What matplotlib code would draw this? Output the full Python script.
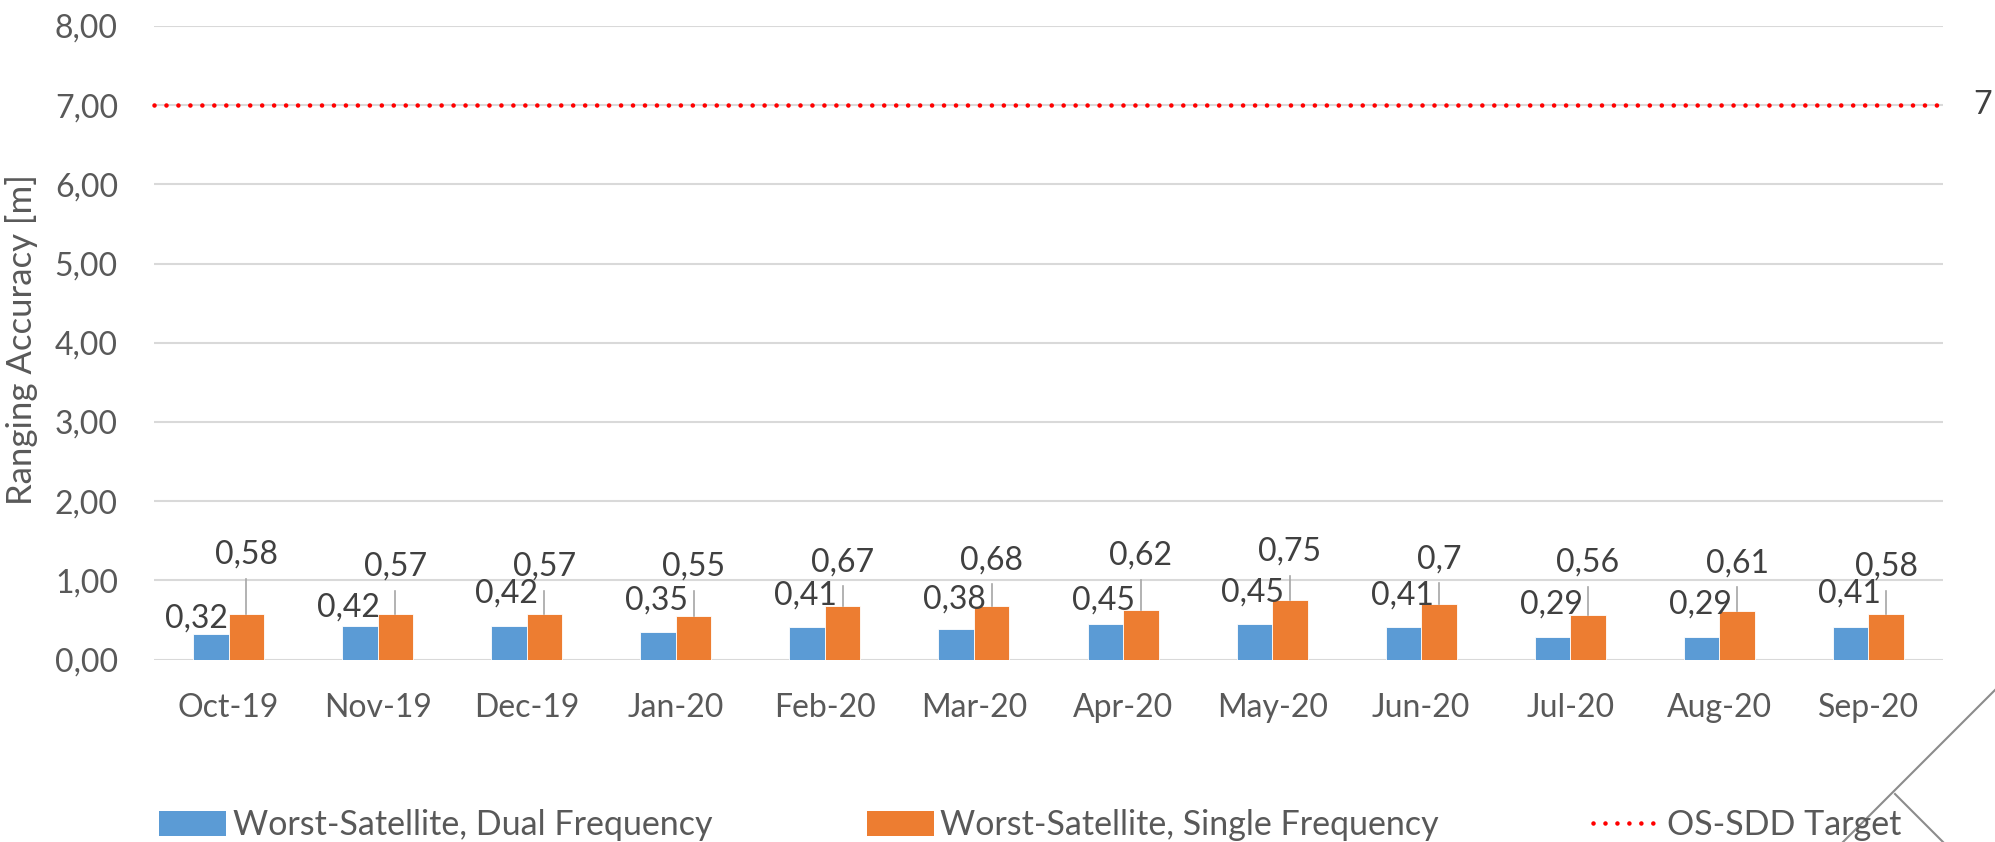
import matplotlib
matplotlib.use("Agg")
import matplotlib.pyplot as plt
from matplotlib.patches import Patch
from matplotlib.lines import Line2D
import numpy as np

# ---- data ----
months = ["Oct-19", "Nov-19", "Dec-19", "Jan-20", "Feb-20", "Mar-20",
          "Apr-20", "May-20", "Jun-20", "Jul-20", "Aug-20", "Sep-20"]
dual = [0.32, 0.42, 0.42, 0.35, 0.41, 0.38, 0.45, 0.45, 0.41, 0.29, 0.29, 0.41]
single = [0.58, 0.57, 0.57, 0.55, 0.67, 0.68, 0.62, 0.75, 0.70, 0.56, 0.61, 0.58]
target = 7
yticks = [0, 1, 2, 3, 4, 5, 6, 7, 8]
series_names = ["Worst-Satellite, Dual Frequency",
                "Worst-Satellite, Single Frequency",
                "OS-SDD Target"]

# label placement (manually moved labels in the original)
single_label_y = [1.32, 1.17, 1.17, 1.17, 1.23, 1.25, 1.31, 1.36, 1.26, 1.22, 1.21, 1.17]
dual_label_y = [0.52, 0.65, 0.83, 0.75, 0.81, 0.76, 0.75, 0.85, 0.81, 0.69, 0.69, 0.83]
dual_label_dx = [-0.094, -0.074, -0.02, -0.01, -0.01, -0.01, -0.01, -0.01, -0.01, -0.01, -0.01, -0.01]

BLUE = "#5b9bd5"
ORANGE = "#ed7d31"
RED = "#ff0000"
GRID = "#d9d9d9"
TICK = "#595959"
LABEL = "#404040"
FONT = "Lato"
FS = 23
LFS = 24.5

plt.rcParams["font.family"] = [FONT, "DejaVu Sans"]

W, H = 1995, 842
fig = plt.figure(figsize=(W / 100, H / 100), dpi=100)
ax = fig.add_axes([154 / W, 1 - 659.5 / H, (1943 - 154) / W, (659.5 - 26) / H])

x = np.arange(len(months))
bw = 0.238
ax.bar(x - bw / 2, dual, bw, color=BLUE, edgecolor="white", linewidth=0.6, zorder=3)
ax.bar(x + bw / 2, single, bw, color=ORANGE, edgecolor="white", linewidth=0.6, zorder=3)

ax.set_xlim(-0.5, len(months) - 0.5)
ax.set_ylim(0, 8)
ax.set_yticks(yticks)
ax.set_yticklabels([f"{v:.2f}".replace(".", ",") for v in yticks])
ax.set_xticks(x)
ax.set_xticklabels(months)
ax.tick_params(axis="both", length=0, labelsize=FS, labelcolor=TICK)
ax.tick_params(axis="y", pad=26)
ax.tick_params(axis="x", pad=24)
for s in ax.spines.values():
    s.set_visible(False)
ax.yaxis.grid(True, color=GRID, linewidth=1.5, zorder=0)
ax.set_axisbelow(True)

# target line
ax.plot([-0.5, len(months) - 0.5], [target, target], color=RED, linewidth=3.3,
        linestyle=(0, (0.01, 2.6)), dash_capstyle="round", zorder=4, clip_on=False)
ax.annotate(str(target), xy=(len(months) - 0.5, target), xytext=(22, 0),
            textcoords="offset points", ha="left", va="center",
            fontsize=FS, color=LABEL, annotation_clip=False)

def fmt(v):
    s = f"{v:.2f}".rstrip("0").rstrip(".")
    return s.replace(".", ",")

# data labels
for i in range(len(months)):
    xo = x[i] + bw / 2
    ax.text(xo, single_label_y[i], fmt(single[i]), ha="center", va="center",
            fontsize=FS, color=LABEL, zorder=6)
    top = single_label_y[i] - 0.30
    if top > single[i]:
        ax.plot([xo, xo], [top, single[i]], color="#a6a6a6", linewidth=1.2, zorder=5)
    xb = x[i] - bw / 2 + dual_label_dx[i]
    ax.text(xb, dual_label_y[i], fmt(dual[i]), ha="center", va="center",
            fontsize=FS, color=LABEL, zorder=6)

ax.set_ylabel("Ranging Accuracy [m]", fontsize=25, color=TICK)
ax.yaxis.label.set_va("center")
ax.yaxis.set_label_coords((22 - 154) / (1943 - 154), 0.505)

handles = [Patch(facecolor=BLUE, edgecolor="none"),
           Patch(facecolor=ORANGE, edgecolor="none"),
           Line2D([0], [0], color=RED, linewidth=3.3, linestyle=(0, (0.01, 2.6)),
                  dash_capstyle="round")]
fsp = LFS * 100 / 72
fig.legend(handles, series_names, ncol=3, frameon=False, fontsize=LFS,
           loc="center left", bbox_to_anchor=(159 / W, 1 - 825 / H),
           borderpad=0, borderaxespad=0, handlelength=67 / fsp,
           handleheight=26 / fsp, handletextpad=7 / fsp,
           columnspacing=154 / fsp, labelcolor=TICK)

# decorative lines in bottom-right corner
fig.add_artist(Line2D([1995 / W, 1843 / W], [1 - 690 / H, 1 - 842 / H],
                      transform=fig.transFigure, color="#8c8c8c", linewidth=1.5))
fig.add_artist(Line2D([1895 / W, 1943 / W], [1 - 794 / H, 1 - 842 / H],
                      transform=fig.transFigure, color="#8c8c8c", linewidth=1.5))

fig.savefig("out.png", dpi=100)
